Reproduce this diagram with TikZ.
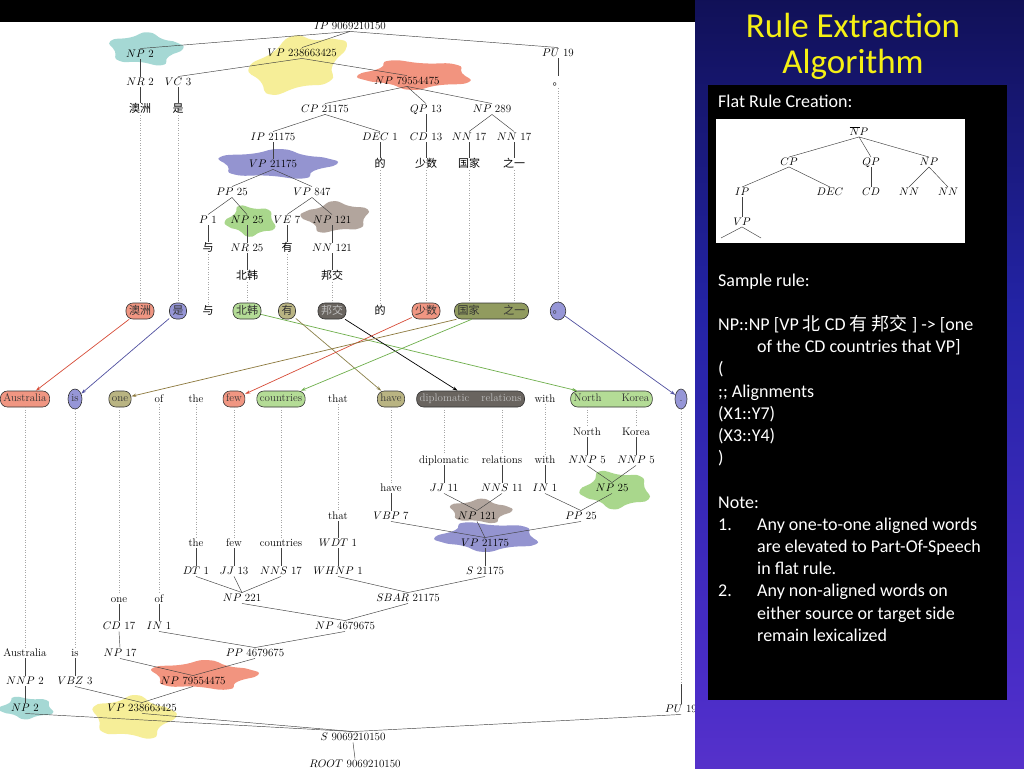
\documentclass[tikz,border=0pt]{standalone}
\usepackage{fontspec}
\usepackage{amsmath}
\usetikzlibrary{arrows.meta,shapes.geometric}
\newfontfamily\cjk{Noto Sans CJK SC}
\newfontfamily\slide{Carlito}
\definecolor{bteal}{RGB}{150,210,205}
\definecolor{byel}{RGB}{245,236,135}
\definecolor{bsal}{RGB}{240,130,105}
\definecolor{bpur}{RGB}{130,130,200}
\definecolor{bgrn}{RGB}{155,208,120}
\definecolor{bbrn}{RGB}{165,150,140}
\definecolor{psal}{RGB}{240,150,130}
\definecolor{pblu}{RGB}{150,150,215}
\definecolor{pgrn}{RGB}{180,220,150}
\definecolor{pkha}{RGB}{185,180,130}
\definecolor{poli}{RGB}{145,155,95}
\definecolor{pdrk}{RGB}{105,100,95}
\definecolor{lred}{RGB}{215,75,55}
\definecolor{lblu}{RGB}{80,80,160}
\definecolor{lgrn}{RGB}{110,175,75}
\definecolor{loli}{RGB}{140,130,75}
\definecolor{lbrn}{RGB}{140,120,60}
\definecolor{ttl}{RGB}{245,240,20}
\definecolor{bgpurple}{RGB}{140,70,215}
\definecolor{bgviolet}{RGB}{75,45,200}
\definecolor{bgblue}{RGB}{35,35,165}
\definecolor{bgnavy}{RGB}{10,10,60}
\pgfdeclareverticalshading{slidebg}{100bp}{color(0bp)=(bgpurple); color(30bp)=(bgviolet); color(55bp)=(bgblue); color(82bp)=(bgnavy); color(100bp)=(black)}
\newcommand\splat[6]{%
  \fill[#6,opacity=0.85,shift={(#1,#2)},rotate=#5,xscale=#3,yscale=#4]
    plot[smooth cycle,tension=1] coordinates {(0:1) (32:0.74) (62:0.96) (100:0.7) (138:0.92)
      (172:0.8) (205:1) (238:0.72) (275:0.88) (312:0.7) (338:0.9)};}

\begin{document}
\begin{tikzpicture}[x=1pt,y=-1pt,
    tnode/.style={font=\fontsize{11}{13}\selectfont,inner sep=1pt,text height=7.5pt,text depth=1pt},
    cjkw/.style={tnode,font=\cjk\fontsize{11}{13}\selectfont,text height=9pt,text depth=1.5pt},
    tedge/.style={black!75,line width=0.45pt},
    guide/.style={black!35,dotted,line width=0.5pt},
    pill/.style={draw=black!80,line width=0.6pt,rounded corners=7pt,inner xsep=3pt,inner ysep=1pt,
      minimum height=16pt,text height=7.5pt,text depth=2pt,font=\fontsize{11}{13}\selectfont,text=black!80},
    cjkpill/.style={pill,font=\cjk\fontsize{11}{13}\selectfont,text height=8.5pt,text depth=1.5pt},
    oval/.style={pill,ellipse,sharp corners,inner sep=0pt,minimum width=14pt,minimum height=20pt},
    link/.style={-{Stealth[length=5pt,width=3.2pt]},line width=0.7pt},
    mini/.style={font=\fontsize{11}{13}\selectfont,inner sep=1pt,text height=7.5pt,text depth=0pt},
    slidetxt/.style={font=\slide\fontsize{18}{22}\selectfont,white,anchor=base west,inner sep=0pt}]
  \useasboundingbox (0,0) rectangle (1024,768);
  \fill[black] (0,0) rectangle (1024,768);
  \fill[white] (0,22) rectangle (695,768);

  \splat{145}{49}{38}{19}{0}{bteal}
  \splat{298}{64}{52}{32}{20}{byel}
  \splat{416}{75}{58}{17}{180}{bsal}
  \splat{276}{164}{61}{17}{0}{bpur}
  \splat{251}{221}{26}{18}{180}{bgrn}
  \splat{336}{217}{-35}{18}{0}{bbrn}
  \splat{616}{490}{36}{22}{180}{bgrn}
  \splat{480}{511}{32}{14}{0}{bbrn}
  \splat{488}{537}{53}{17}{180}{bpur}
  \splat{203}{675}{55}{17}{0}{bsal}
  \splat{27}{708}{28}{13}{180}{bteal}
  \splat{133}{717}{43}{25}{0}{byel}

  \foreach \n/\x/\y/\t in {
    cIP/350/26/{$IP$ 9069210150}, cNPa/140/54/{$NP$ 2}, cVP/302/53/{$VP$ 238663425},
    cPU/558/53/{$PU$ 19}, cNR/140/82/{$NR$ 2}, cVC/178/82/{$VC$ 3},
    cNPb/407/81/{$NP$ 79554475}, cCP/325/109/{$CP$ 21175}, cQP/426/109/{$QP$ 13},
    cNPc/492/109/{$NP$ 289}, cIPb/273/137/{$IP$ 21175}, cDEC/380/137/{$DEC$ 1},
    cCD/426/137/{$CD$ 13}, cNNa/469/137/{$NN$ 17}, cNNb/514/137/{$NN$ 17},
    cVPb/273/164/{$VP$ 21175}, cPP/232/192/{$PP$ 25}, cVPc/312/192/{$VP$ 847},
    cP/208/220/{$P$ 1}, cNPd/247/220/{$NP$ 25}, cVE/287/220/{$VE$ 7},
    cNPe/332/220/{$NP$ 121}, cNRb/247/248/{$NR$ 25}, cNN/332/248/{$NN$ 121}}
    \node[tnode] (\n) at (\x,\y) {\t};
  \foreach \n/\x/\y/\t in {
    cw1/140/109/澳洲, cw2/178/109/是, cw11/558/82/。, cw7/380/164/的, cw8/426/164/少数,
    cw9/469/164/国家, cw10/514/164/之一, cw3/208/248/与, cw5/287/248/有,
    cw4/247/276/北韩, cw6/332/276/邦交}
    \node[cjkw] (\n) at (\x,\y) {\t};
  \foreach \a/\b in {cIP/cNPa, cIP/cVP, cIP/cPU, cNPa/cNR, cNR/cw1, cVP/cVC, cVP/cNPb,
    cVC/cw2, cPU/cw11, cNPb/cCP, cNPb/cQP, cNPb/cNPc, cCP/cIPb, cCP/cDEC, cDEC/cw7,
    cQP/cCD, cCD/cw8, cNPc/cNNa, cNPc/cNNb, cNNa/cw9, cNNb/cw10, cIPb/cVPb, cVPb/cPP,
    cVPb/cVPc, cPP/cP, cPP/cNPd, cP/cw3, cNPd/cNRb, cNRb/cw4, cVPc/cVE, cVPc/cNPe,
    cVE/cw5, cNPe/cNN, cNN/cw6}
    \draw[tedge] (\a.south) -- (\b.north);

  \foreach \n/\x/\y/\t in {
    eNorth/587/432/North, eKorea/636/432/Korea, eDip/444/460/diplomatic,
    eRel/502/460/relations, eWith/545/460/with, eHave/391/488/have, eThat/338/516/that,
    eThe/196/543/the, eFew/234/543/few, eCountries/281/543/countries, eOne/119/599/one,
    eOf/159/599/of, eAus/25/653/Australia, eIs/75/653/is,
    eNNPa/587/460/{$NNP$ 5}, eNNPb/636/460/{$NNP$ 5}, eJJ/444/488/{$JJ$ 11},
    eNNS/502/488/{$NNS$ 11}, eIN/545/488/{$IN$ 1}, eNPa/612/488/{$NP$ 25},
    eVBP/391/516/{$VBP$ 7}, eNPb/477/516/{$NP$ 121}, ePP/581/516/{$PP$ 25},
    eWDT/338/543/{$WDT$ 1}, eVP/485/543/{$VP$ 21175}, eDT/196/571/{$DT$ 1},
    eJJb/234/571/{$JJ$ 13}, eNNSb/281/571/{$NNS$ 17}, eWHNP/338/571/{$WHNP$ 1},
    eS/485/571/{$S$ 21175}, eNPc/242/598/{$NP$ 221}, eSBAR/408/598/{$SBAR$ 21175},
    eCD/119/626/{$CD$ 17}, eINb/159/626/{$IN$ 1}, eNPd/345/626/{$NP$ 4679675},
    eNPe/120/653/{$NP$ 17}, ePPb/255/653/{$PP$ 4679675}, eNNP/25/681/{$NNP$ 2},
    eVBZ/75/681/{$VBZ$ 3}, eNPf/193/681/{$NP$ 79554475}, eNPg/25/708/{$NP$ 2},
    eVPb/142/708/{$VP$ 238663425}, ePU/681/709/{$PU$ 19}, eS0/353/737/{$S$ 9069210150},
    eRoot/355/764/{$ROOT$ 9069210150}}
    \node[tnode] (\n) at (\x,\y) {\t};
  \foreach \a/\b in {eNorth/eNNPa, eKorea/eNNPb, eNNPa/eNPa, eNNPb/eNPa, eDip/eJJ,
    eRel/eNNS, eWith/eIN, eJJ/eNPb, eNNS/eNPb, eIN/ePP, eNPa/ePP, eHave/eVBP, eVBP/eVP,
    eNPb/eVP, ePP/eVP, eVP/eS, eThat/eWDT, eWDT/eWHNP, eWHNP/eSBAR, eS/eSBAR, eThe/eDT,
    eFew/eJJb, eCountries/eNNSb, eDT/eNPc, eJJb/eNPc, eNNSb/eNPc, eNPc/eNPd, eSBAR/eNPd,
    eOf/eINb, eINb/ePPb, eNPd/ePPb, eOne/eCD, eCD/eNPe, eNPe/eNPf, ePPb/eNPf, eIs/eVBZ,
    eVBZ/eVPb, eNPf/eVPb, eAus/eNNP, eNNP/eNPg, eNPg/eS0, eVPb/eS0, ePU/eS0, eS0/eRoot}
    \draw[tedge] (\a.south) -- (\b.north);

  \foreach \n/\x/\c/\t in {a1/140/psal/澳洲, a2/178/pblu/是, a4/247/pgrn/北韩,
    a5/287/pkha/有, a6/332/pdrk/{\color{black!25}邦交}, a8/426/psal/少数,
    a9/491.5/poli/{国家\hspace{24pt}之一}}
    \node[cjkpill,fill=\c] (\n) at (\x,311) {\t};
  \node[cjkw] (a3) at (208,311) {与};
  \node[cjkw] (a7) at (380,311) {的};
  \node[oval,fill=pblu,font=\cjk\fontsize{11}{13}\selectfont,minimum height=18pt] (a10) at (558,311) {。};
  \foreach \n/\x/\c/\t in {b1/25/psal/Australia, b3/120/pkha/one, b6/234/psal/few,
    b7/281/pgrn/countries, b9/391/pkha/have,
    b10/470.6/pdrk/{\color{black!25}diplomatic\hspace{12pt}relations},
    b12/611.5/pgrn/{North\hspace{20pt}Korea}}
    \node[pill,fill=\c] (\n) at (\x,399) {\t};
  \foreach \n/\x/\t in {b4/159/of, b5/196/the, b8/338/that, b11/545/with}
    \node[tnode] (\n) at (\x,399) {\t};
  \node[oval,fill=pblu] (b2) at (75,399) {is};
  \node[oval,fill=pblu,minimum width=12pt] (b13) at (681,399) {.};
  \coordinate (eDot) at (681,684);

  \foreach \w/\a in {cw1/a1, cw2/a2, cw3/a3, cw4/a4, cw5/a5, cw6/a6, cw7/a7, cw8/a8,
    cw9/a9, cw10/a9, cw11/a10}
    \draw[guide] (\w.south) -- (\w.south |- \a.north);
  \foreach \a/\w in {b1/eAus, b2/eIs, b3/eOne, b4/eOf, b5/eThe, b6/eFew, b7/eCountries,
    b8/eThat, b9/eHave, b10/eDip, b10/eRel, b11/eWith, b12/eNorth, b12/eKorea}
    \draw[guide] (\w.north |- \a.south) -- (\w.north);
  \draw[guide] (b13.south) -- (eDot);
  \draw[tedge] (eDot) -- (ePU.north);

  \foreach \a/\b/\c in {a1/b1/lred, a2/b2/lblu, a4/b12/lgrn, a5/b9/loli, a6/b10/black,
    a8/b6/lred, a9/b3/lbrn, a9/b7/lgrn, a10/b13/lblu}
    \draw[link,\c] (\a) -- (\b);

  \shade[shading=slidebg] (695,0) rectangle (1024,768);
  \fill[black] (0,0) rectangle (695,22);
  \node[font=\slide\fontsize{35}{36}\selectfont,text=ttl,align=center] (title) at (853,46)
    {Rule Extraction\\Algorithm};
  \fill[black] (708,85) rectangle (1007,700);
  \node[slidetxt] (flat) at (718,107) {Flat Rule Creation:};
  \fill[white] (716,119) rectangle (965,243);
  \foreach \n/\x/\y/\t in {mNP/859/132/{$\overline{N}P$}, mCP/789/162/{$CP$}, mQP/871/162/{$QP$},
    mNPb/929/162/{$NP$}, mIP/742/192/{$IP$}, mDEC/830/192/{$DEC$}, mCD/871/192/{$CD$},
    mNNa/909/192/{$NN$}, mNNb/948/192/{$NN$}, mVP/742/222/{$VP$}}
    \node[mini] (\n) at (\x,\y) {\t};
  \coordinate (mL) at (721,238);
  \coordinate (mR) at (761,238);
  \foreach \a/\b in {mNP/mCP, mNP/mQP, mNP/mNPb, mCP/mIP, mCP/mDEC, mQP/mCD,
    mNPb/mNNa, mNPb/mNNb, mIP/mVP}
    \draw[tedge] (\a.south) -- (\b.north);
  \draw[tedge] (mVP.south) -- (mL);
  \draw[tedge] (mVP.south) -- (mR);

  \foreach \n/\x/\t in {0/718/{Sample rule:},
    2/718/{NP::NP [VP {\cjk 北} CD {\cjk 有} {\cjk 邦交} ] -> [one},
    3/757/{of the CD countries that VP]}, 4/718/{(}, 5/718/{;; Alignments},
    6/718/{(X1::Y7)}, 7/718/{(X3::Y4)}, 8/718/{)}, 10/718/{Note:},
    11/718/{1.}, 11/757/{Any one-to-one aligned words},
    12/757/{are elevated to Part-Of-Speech}, 13/757/{in flat rule.},
    14/718/{2.}, 14/757/{Any non-aligned words on},
    15/757/{either source or target side}, 16/757/{remain lexicalized}}
    \node[slidetxt] (r\n-\x) at (\x,{286+22.2*\n}) {\t};
\end{tikzpicture}
\end{document}
